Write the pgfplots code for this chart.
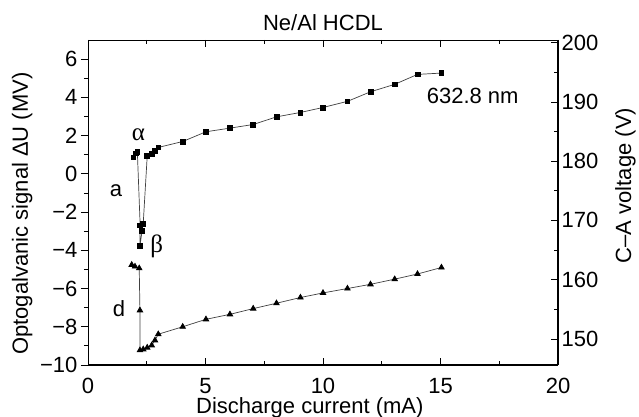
\documentclass[border=0pt]{standalone}
\usepackage{fontspec}
\setmainfont{Liberation Sans}
\newfontfamily\greekfont{Liberation Serif}
\usepackage{pgfplots}
\pgfplotsset{compat=1.18}
\newcommand{\fs}{\fontsize{22}{26}\selectfont}
\begin{document}
\begin{tikzpicture}
\begin{axis}[
  at={(0,0)}, anchor=south west, scale only axis, width=470pt, height=325pt,
  xmin=0, xmax=20, ymin=-10, ymax=7,
  axis x line*=bottom, axis y line*=left,
  x axis line style={-, line width=1.5pt},
  y axis line style={-, line width=0.8pt},
  xtick={0,5,10,15,20}, minor x tick num=1,
  ytick={-10,-8,-6,-4,-2,0,2,4,6},
  yticklabels={−10,−8,−6,−4,−2,0,2,4,6},
  minor y tick num=1,
  xtick align=inside, ytick align=outside,
  major tick length=7pt, minor tick length=4pt,
  every tick/.style={black, line width=0.8pt},
  tick label style={font=\fs},
  /pgf/number format/assume math mode=true,
  xticklabel style={anchor=base, yshift=-28pt},
  label style={font=\fs},
  xlabel={Discharge current (mA)},
  xlabel style={at={(axis description cs:0.472,0)}, anchor=base, yshift=-48pt},
  ylabel={Optogalvanic signal ΔU (MV)},
  ylabel style={at={(axis description cs:-0.1277,0.466)}, anchor=base, rotate=0},
  title={Ne/Al HCDL}, title style={font=\fs},
  clip=false,
]
\addplot[black!75, line width=0.7pt, mark=square*, mark size=2.4pt, mark options={black, solid}] coordinates {
(1.93,0.86) (2.04,1.07) (2.10,1.15) (2.22,-2.7) (2.21,-3.77) (2.30,-3.0) (2.35,-2.6)
(2.52,0.94) (2.71,1.06) (2.85,1.20) (2.99,1.38)
(4.03,1.69) (5.02,2.20) (6.04,2.39) (7.03,2.58) (8.02,2.98) (9.04,3.21) (10.0,3.47)
(11.04,3.79) (12.02,4.29) (13.05,4.68) (14.02,5.20) (15.04,5.27)
};
\addplot[black!75, line width=0.7pt, mark=triangle*, mark size=3.2pt, mark options={black, solid}] coordinates {
(1.86,-4.76) (2.00,-4.85) (2.18,-4.94) (2.21,-7.14) (2.21,-9.23) (2.35,-9.18) (2.52,-9.09)
(2.71,-8.97) (2.85,-8.71) (2.99,-8.39)
(4.03,-8.00) (5.02,-7.61) (6.04,-7.35) (7.03,-7.05) (8.02,-6.77) (9.04,-6.47) (10.0,-6.23)
(11.04,-6.00) (12.02,-5.78) (13.05,-5.51) (14.02,-5.24) (15.04,-4.90)
};
\node[font=\fontsize{25}{28}\selectfont\greekfont, inner sep=0] at (axis cs:2.15,2.04) {α};
\node[font=\fontsize{25}{28}\selectfont\greekfont, inner sep=0] at (axis cs:2.93,-3.77) {β};
\node[font=\fs, inner sep=0] at (axis cs:1.19,-0.89) {a};
\node[font=\fs, inner sep=0] at (axis cs:1.32,-7.07) {d};
\node[font=\fs, inner sep=0, anchor=west] at (axis cs:14.41,4.08) {632.8 nm};
\end{axis}
\begin{axis}[
  at={(0,0)}, anchor=south west, scale only axis, width=470pt, height=325pt,
  xmin=0, xmax=20, ymin=145.6, ymax=200.45,
  axis x line*=top, axis y line*=right,
  x axis line style={-, line width=0.8pt},
  y axis line style={-, line width=1.6pt},
  xtick={0,5,10,15,20}, minor x tick num=1, xticklabels={},
  ytick={150,160,170,180,190,200}, minor y tick num=1,
  tick align=inside,
  major tick length=7pt, minor tick length=4pt,
  every tick/.style={black, line width=0.8pt},
  tick label style={font=\fs},
  /pgf/number format/assume math mode=true,
  label style={font=\fs},
  ylabel={C–A voltage (V)},
  ylabel style={at={(axis description cs:1.1553,0.552)}, anchor=base, rotate=0},
]
\end{axis}
\pgfresetboundingbox
\path[use as bounding box] (-88pt,-52pt) rectangle (551pt,365pt);
\end{tikzpicture}
\end{document}
